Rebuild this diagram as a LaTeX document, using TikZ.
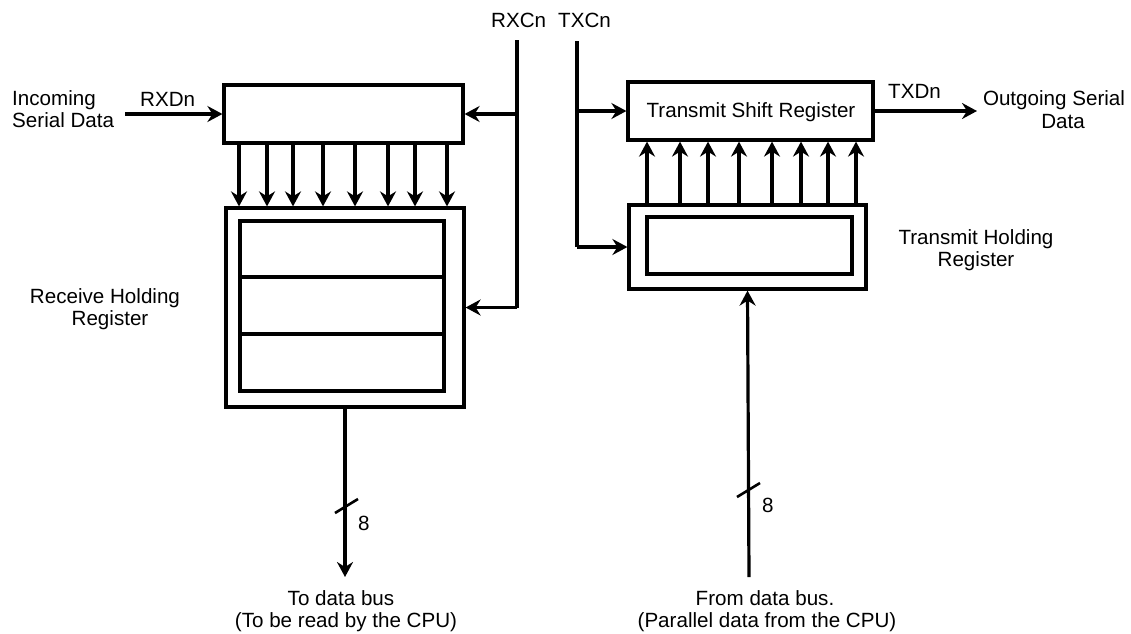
\documentclass[tikz,border=0pt]{standalone}
\usepackage{fontspec}
\setmainfont{Liberation Sans}
\usetikzlibrary{arrows.meta}
\begin{document}
\begin{tikzpicture}[x=1pt,y=-1pt,
  every node/.style={font=\fontsize{20.6}{22}\selectfont},
  regbox/.style={draw,line width=3.2pt,inner sep=0pt,rectangle},
  wire/.style={line width=3.2pt},
  arr/.style={line width=3.2pt,-{Stealth[length=15pt,width=16pt,inset=5pt]}},
  lbl/.style={inner sep=0pt,align=center},
  slash/.style={line width=2.6pt}]
\useasboundingbox[fill=white] (0,0) rectangle (1131,633);
% receive side
\node[regbox,minimum width=239pt,minimum height=58pt] (rsr) at (343.5,114) {};
\node[regbox,minimum width=238pt,minimum height=199pt] (rhr) at (345,307.5) {};
\node[regbox,minimum width=204pt,minimum height=170pt] (rhi) at (342,306) {};
\draw[wire] (rhi.west |- 0,277) coordinate (d1) -- (d1 -| rhi.east);
\draw[wire] (rhi.west |- 0,334) coordinate (d2) -- (d2 -| rhi.east);
% transmit side
\node[regbox,minimum width=245pt,minimum height=58pt] (tsr) at (750.5,111) {};
\node[regbox,minimum width=237pt,minimum height=84pt] (thr) at (747.5,247) {};
\node[regbox,minimum width=205pt,minimum height=57pt] (thi) at (749.5,245.5) {};
% labels
\node[lbl,anchor=base west] (inc) at (12,105) {Incoming};
\node[lbl,anchor=base west] (inc2) at (12,127) {Serial Data};
\node[lbl,anchor=base west] (rxd) at (140,106) {RXDn};
\node[lbl,anchor=base west] (rxc) at (491,27) {RXCn};
\node[lbl,anchor=base west] (txc) at (558,27) {TXCn};
\node[lbl,anchor=base] (tsrl) at (751,117) {Transmit Shift Register};
\node[lbl,anchor=base west] (txd) at (888,98) {TXDn};
\node[lbl,anchor=base] (out1) at (1054,105) {Outgoing Serial};
\node[lbl,anchor=base] (out2) at (1063,128) {Data};
\node[lbl,anchor=base] (thl1) at (976,244) {Transmit Holding};
\node[lbl,anchor=base] (thl2) at (976,266) {Register};
\node[lbl,anchor=base] (rhl1) at (105,303) {Receive Holding};
\node[lbl,anchor=base] (rhl2) at (110,325) {Register};
\node[lbl,anchor=base] (tdb1) at (341,605) {To data bus};
\node[lbl,anchor=base] (tdb2) at (346,627) {(To be read by the CPU)};
\node[lbl,anchor=base] (fdb1) at (765,605) {From data bus.};
\node[lbl,anchor=base] (fdb2) at (767,627) {(Parallel data from the CPU)};
\node[lbl,anchor=base west] (n8a) at (358,530) {8};
\node[lbl,anchor=base west] (n8b) at (762,512) {8};
% serial in/out
\coordinate (inS) at (125,114);
\draw[arr] (inS) -- (rsr.west);
\coordinate (outE) at (977,111);
\draw[arr] (tsr.east) -- (outE);
% clocks
\coordinate (rxtop) at (517,40);
\draw[wire] (rxtop) -- (rxtop |- rhr.east);
\draw[arr] (rxtop |- rhr.east) -- (rhr.east);
\draw[arr] (rxtop |- rsr.east) -- (rsr.east);
\coordinate (txtop) at (577,41);
\draw[wire] (txtop) -- (txtop |- thr.west);
\draw[arr] (txtop |- thr.west) -- (thr.west);
\draw[arr] (txtop |- tsr.west) -- (tsr.west);
% parallel transfers
\foreach \x in {239,267,293,323,355,388,415,447}{
  \coordinate (p) at (\x,0);
  \draw[arr] (p |- rsr.south) -- (p |- rhr.north);
}
\foreach \x in {647,680,708,739,772,801,828,856}{
  \coordinate (q) at (\x,0);
  \draw[arr] (q |- thr.north) -- (q |- tsr.south);
}
% buses
\coordinate (rbus) at (345,577);
\draw[arr] (rhr.south) -- (rbus);
\draw[slash] (335,513) -- (358,499);
\coordinate (tbus) at (749,577);
\draw[arr] (tbus) -- (thr.south);
\draw[slash] (737,497) -- (760,483);
\end{tikzpicture}
\end{document}
